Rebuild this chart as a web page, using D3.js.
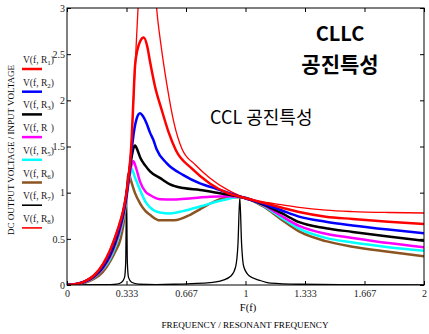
<!DOCTYPE html>
<html>
<head>
<meta charset="utf-8">
<script src="https://cdn.jsdelivr.net/npm/d3@7"></script>
<style>
body { margin: 0; background: #fff; }
</style>
</head>
<body>
<div id="chart"></div>
<script>
// tick values / labels
var xTicks = [0, 1/3, 2/3, 1, 4/3, 5/3, 2];
var xTickLabels = ["0", "0.333", "0.667", "1", "1.333", "1.667", "2"];
var yTicks = [0, 0.5, 1, 1.5, 2, 2.5, 3];
var yTickLabels = ["0", "0.5", "1", "1.5", "2", "2.5", "3"];

// legend subscripts (R4 subscript is missing in the original)
var legendSubs = ["1", "2", "3", "\u00a0\u00a0", "5", "6", "7", "8"];
var seriesColors = ["#ff0000", "#0000ff", "#000000", "#ff00ff", "#00ffff", "#8b5523", "#000000", "#ff0000"];
var seriesWidths = [2.5, 2.5, 2.5, 2.5, 2.5, 2.5, 1.3, 1.3];

// [f, V]
var r1 = [[0,0],[0.05,0.01],[0.1,0.04],[0.15,0.1],[0.2,0.22],[0.24,0.37],[0.27,0.52],[0.3,0.7],[0.315,0.81],[0.33,0.96],[0.345,1.18],[0.36,1.5],[0.372,2.0],[0.381,2.37],[0.395,2.55],[0.41,2.64],[0.43,2.68],[0.45,2.58],[0.465,2.42],[0.493,2.15],[0.53,1.9],[0.57,1.65],[0.61,1.46],[0.7,1.26],[0.8,1.1],[0.9,0.995],[0.97,0.955],[1.1,0.89],[1.2,0.84],[1.3,0.79],[1.45,0.74],[1.6,0.715],[1.8,0.685],[2,0.66]];
var r2 = [[0,0],[0.05,0.01],[0.1,0.038],[0.15,0.095],[0.2,0.2],[0.24,0.34],[0.27,0.49],[0.3,0.67],[0.315,0.79],[0.33,0.95],[0.345,1.16],[0.36,1.42],[0.375,1.66],[0.39,1.8],[0.409,1.86],[0.425,1.83],[0.446,1.75],[0.465,1.65],[0.484,1.57],[0.502,1.47],[0.558,1.32],[0.652,1.19],[0.745,1.1],[0.84,1.04],[0.93,0.98],[0.97,0.955],[1.1,0.88],[1.2,0.81],[1.3,0.74],[1.45,0.685],[1.6,0.645],[1.8,0.6],[2,0.56]];
var r3 = [[0,0],[0.05,0.009],[0.1,0.036],[0.15,0.09],[0.2,0.19],[0.24,0.32],[0.27,0.46],[0.3,0.65],[0.315,0.77],[0.33,0.93],[0.345,1.15],[0.36,1.36],[0.372,1.48],[0.381,1.51],[0.395,1.46],[0.41,1.38],[0.44,1.29],[0.465,1.23],[0.52,1.16],[0.577,1.09],[0.652,1.05],[0.745,1.03],[0.84,1.0],[0.93,0.97],[0.97,0.955],[1.1,0.87],[1.2,0.78],[1.3,0.68],[1.45,0.615],[1.6,0.575],[1.8,0.525],[2,0.48]];
var r4 = [[0,0],[0.05,0.008],[0.1,0.034],[0.15,0.085],[0.2,0.18],[0.24,0.3],[0.27,0.44],[0.3,0.62],[0.315,0.75],[0.33,0.91],[0.345,1.12],[0.36,1.29],[0.372,1.34],[0.385,1.28],[0.409,1.12],[0.44,1.01],[0.465,0.975],[0.52,0.93],[0.6,0.925],[0.7,0.94],[0.8,0.955],[0.9,0.96],[0.97,0.955],[1.1,0.865],[1.2,0.75],[1.3,0.64],[1.45,0.555],[1.6,0.51],[1.8,0.455],[2,0.41]];
var r5 = [[0,0],[0.05,0.007],[0.1,0.032],[0.15,0.08],[0.2,0.17],[0.24,0.28],[0.27,0.41],[0.3,0.59],[0.315,0.72],[0.33,0.89],[0.345,1.1],[0.362,1.26],[0.38,1.17],[0.409,1.03],[0.44,0.9],[0.465,0.84],[0.52,0.785],[0.577,0.775],[0.65,0.8],[0.745,0.85],[0.875,0.92],[0.97,0.955],[1.1,0.86],[1.2,0.73],[1.3,0.61],[1.45,0.51],[1.6,0.46],[1.8,0.41],[2,0.37]];
var r6 = [[0,0],[0.05,0.005],[0.1,0.025],[0.15,0.065],[0.2,0.14],[0.24,0.25],[0.27,0.36],[0.3,0.5],[0.315,0.64],[0.33,0.88],[0.345,1.21],[0.36,1.12],[0.38,1.0],[0.409,0.885],[0.44,0.8],[0.465,0.76],[0.52,0.7],[0.6,0.7],[0.69,0.76],[0.745,0.82],[0.8,0.88],[0.857,0.93],[0.9,0.95],[0.97,0.95],[1.1,0.85],[1.2,0.71],[1.3,0.58],[1.45,0.475],[1.6,0.415],[1.8,0.36],[2,0.31]];
var r7 = [[0,0],[0.2,0.003],[0.28,0.01],[0.306,0.03],[0.322,0.08],[0.329,0.25],[0.3335,1.0],[0.338,0.25],[0.345,0.08],[0.362,0.03],[0.4,0.01],[0.5,0.005],[0.6,0.008],[0.7,0.015],[0.8,0.025],[0.87,0.05],[0.92,0.1],[0.945,0.2],[0.958,0.45],[0.968,0.95],[0.978,0.45],[0.99,0.2],[1.02,0.1],[1.08,0.05],[1.14,0.02],[1.3,0.008],[1.6,0.003],[2,0]];
var r8 = [[0,0],[0.05,0.01],[0.1,0.045],[0.15,0.11],[0.2,0.23],[0.24,0.38],[0.27,0.53],[0.3,0.71],[0.315,0.82],[0.33,0.97],[0.345,1.19],[0.36,1.5],[0.372,2.0],[0.385,2.5],[0.398,3.0],[0.42,3.7],[0.45,3.95],[0.48,3.6],[0.502,3.0],[0.53,2.55],[0.558,2.19],[0.6,1.75],[0.645,1.47],[0.72,1.3],[0.8,1.16],[0.9,1.03],[0.97,0.965],[1.1,0.9],[1.2,0.87],[1.3,0.84],[1.45,0.81],[1.6,0.795],[1.8,0.785],[2,0.78]];

var seriesData = [r1, r2, r3, r4, r5, r6, r7, r8];

var W = 429, H = 334;
var plot = {left: 67, right: 424, top: 8, bottom: 285};
var serif = "'Liberation Serif', 'Times New Roman', serif";

var svg = d3.select("#chart").append("svg")
    .attr("width", W)
    .attr("height", H);

var x = d3.scaleLinear().domain([0, 2]).range([plot.left, plot.right]);
var y = d3.scaleLinear().domain([0, 3]).range([plot.bottom, plot.top]);

svg.append("clipPath").attr("id", "clip")
  .append("rect")
    .attr("x", plot.left).attr("y", plot.top)
    .attr("width", plot.right - plot.left)
    .attr("height", plot.bottom - plot.top);

var line = d3.line()
    .x(function(d) { return x(d[0]); })
    .y(function(d) { return y(d[1]); })
    .curve(d3.curveMonotoneX);

// curves: thin ones first, red R1 on top
var curves = svg.append("g").attr("clip-path", "url(#clip)");
[7, 6, 5, 4, 3, 2, 1, 0].forEach(function(i) {
  curves.append("path")
    .datum(seriesData[i])
    .attr("fill", "none")
    .attr("stroke", seriesColors[i])
    .attr("stroke-width", seriesWidths[i])
    .attr("stroke-linejoin", "round")
    .attr("d", line);
});

// frame
svg.append("rect")
  .attr("x", plot.left).attr("y", plot.top)
  .attr("width", plot.right - plot.left)
  .attr("height", plot.bottom - plot.top)
  .attr("fill", "none")
  .attr("stroke", "#000")
  .attr("stroke-width", 1);

function styleAxis(g) {
  g.select(".domain").remove();
  g.selectAll("text").attr("font-family", serif).attr("font-size", 10).attr("fill", "#222");
  g.selectAll("line").attr("stroke", "#000");
}

svg.append("g")
  .attr("transform", "translate(0," + plot.bottom + ")")
  .call(d3.axisBottom(x).tickValues(xTicks).tickSizeInner(-4).tickSizeOuter(0).tickPadding(5)
    .tickFormat(function(d, i) { return xTickLabels[i]; }))
  .call(styleAxis);

svg.append("g")
  .attr("transform", "translate(0," + plot.top + ")")
  .call(d3.axisTop(x).tickValues(xTicks).tickSizeInner(-4).tickSizeOuter(0)
    .tickFormat(function() { return ""; }))
  .call(styleAxis);

svg.append("g")
  .attr("transform", "translate(" + plot.left + ",0)")
  .call(d3.axisLeft(y).tickValues(yTicks).tickSizeInner(-4).tickSizeOuter(0).tickPadding(2)
    .tickFormat(function(d, i) { return yTickLabels[i]; }))
  .call(styleAxis);

svg.append("g")
  .attr("transform", "translate(" + plot.right + ",0)")
  .call(d3.axisRight(y).tickValues(yTicks).tickSizeInner(-4).tickSizeOuter(0)
    .tickFormat(function() { return ""; }))
  .call(styleAxis);

// axis titles
svg.append("text")
  .attr("x", 248).attr("y", 311)
  .attr("text-anchor", "middle")
  .attr("font-family", serif).attr("font-size", 10.5)
  .text("F(f)");

svg.append("text")
  .attr("x", 245).attr("y", 328)
  .attr("text-anchor", "middle")
  .attr("font-family", serif).attr("font-size", 8.5)
  .attr("textLength", 167).attr("lengthAdjust", "spacingAndGlyphs")
  .text("FREQUENCY / RESONANT FREQUENCY");

svg.append("text")
  .attr("transform", "translate(14,150) rotate(-90)")
  .attr("text-anchor", "middle")
  .attr("font-family", serif).attr("font-size", 9)
  .attr("textLength", 170).attr("lengthAdjust", "spacingAndGlyphs")
  .text("DC OUTPUT VOLTAGE / INPUT VOLTAGE");

// legend
var legend = svg.append("g");
legendSubs.forEach(function(sub, i) {
  var ly = 69 + i * 22.7;
  legend.append("line")
    .attr("x1", 22).attr("x2", 42)
    .attr("y1", ly).attr("y2", ly)
    .attr("stroke", seriesColors[i])
    .attr("stroke-width", i < 6 ? 2.5 : 1.6);
  var t = legend.append("text")
    .attr("x", 23).attr("y", ly - 6)
    .attr("font-family", serif).attr("font-size", 9.5)
    .attr("fill", "#222");
  t.append("tspan").text("V(f, R");
  t.append("tspan").attr("font-size", 7).attr("dy", 2).text(sub);
  t.append("tspan").attr("dy", -2).text(")");
});

// annotations
var kr = "'Noto Sans CJK KR', 'Noto Sans', sans-serif";
svg.append("text")
  .attr("x", 340).attr("y", 41)
  .attr("text-anchor", "middle")
  .attr("font-family", kr).attr("font-weight", "bold").attr("font-size", 20)
  .text("CLLC");
svg.append("text")
  .attr("x", 340).attr("y", 72)
  .attr("text-anchor", "middle")
  .attr("font-family", kr).attr("font-weight", "bold").attr("font-size", 21)
  .text("공진특성");
svg.append("text")
  .attr("x", 210).attr("y", 124)
  .attr("font-family", kr).attr("font-size", 18)
  .text("CCL 공진특성");
</script>
</body>
</html>
